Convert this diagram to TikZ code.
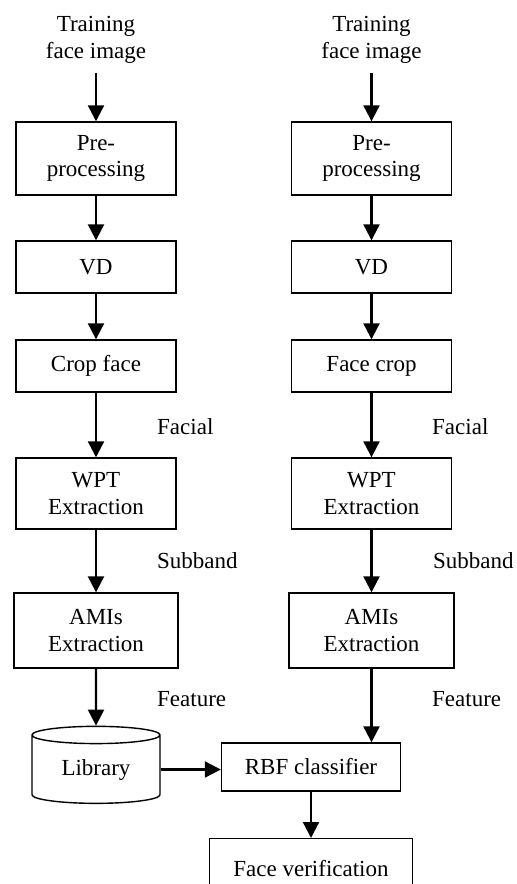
\documentclass[tikz,border=0pt]{standalone}
\usepackage{fontspec}
\setmainfont{Liberation Serif}
\usepackage{tikz}
\usetikzlibrary{arrows.meta,shapes.geometric}

\tikzset{
  box/.style={draw, line width=1.4pt, minimum width=160pt, align=center, inner sep=0pt},
  txt/.style={align=center, inner xsep=0pt, inner ysep=9pt},
  lbl/.style={anchor=west, inner sep=0pt},
  flow/.style={line width=2.2pt, -{Triangle[width=16pt,length=16pt]}}
}

\begin{document}
\begin{tikzpicture}[x=1pt, y=-1pt, font=\fontsize{23}{26.5}\selectfont]
  \clip (0,0) rectangle (517,884);
  % left column: training
  \node[txt] (inL) at (96,40) {Training\\face image};
  \node[box, minimum height=73pt] (preL) at (96,158.5) {Pre-\\processing};
  \node[box, minimum height=52pt] (vdL) at (96,267) {VD};
  \node[box, minimum height=52pt] (cropL) at (96,366) {Crop face};
  \node[box, minimum height=71pt] (wptL) at (96,493.5) {WPT\\Extraction};
  \node[box, minimum height=75pt, minimum width=164pt] (amiL) at (96,630.5) {AMIs\\Extraction};
  \node[cylinder, draw, line width=1.4pt, shape border rotate=90, aspect=0.25,
        minimum width=128pt, minimum height=77pt, inner sep=0pt] (lib) at (96,769.5) {Library};
  % right column: test
  \node[txt] (inR) at (371.5,40) {Training\\face image};
  \node[box, minimum height=73pt] (preR) at (371.5,158.5) {Pre-\\processing};
  \node[box, minimum height=52pt] (vdR) at (371.5,267) {VD};
  \node[box, minimum height=52pt] (cropR) at (371.5,366) {Face crop};
  \node[box, minimum height=71pt] (wptR) at (371.5,493.5) {WPT\\Extraction};
  \node[box, minimum height=75pt, minimum width=165pt] (amiR) at (371.5,630.5) {AMIs\\Extraction};
  \node[box, minimum height=48pt, minimum width=179pt] (rbf) at (311,767) {RBF classifier};
  \node[box, minimum height=60pt, minimum width=203pt, anchor=north] (ver) at (311,838) {Face verification};
  % labels
  \node[lbl] (facL) at (157,427) {Facial};
  \node[lbl] (subL) at (157,561) {Subband};
  \node[lbl] (feaL) at (157,699) {Feature};
  \node[lbl] (facR) at (432,427) {Facial};
  \node[lbl] (subR) at (433,561) {Subband};
  \node[lbl] (feaR) at (432,699) {Feature};

  \path[flow]
  (inL) edge (preL)
  (preL) edge (vdL)
  (vdL) edge (cropL)
  (cropL) edge (wptL)
  (wptL) edge (amiL)
  (amiL) edge (lib)
  (inR) edge (preR)
  (preR) edge (vdR)
  (vdR) edge (cropR)
  (cropR) edge (wptR)
  (wptR) edge (amiR)
  (amiR.south) edge (amiR.south |- rbf.north)
  (lib.east) edge (lib.east -| rbf.west)
  (rbf) edge (ver)
  ;
\end{tikzpicture}
\end{document}
